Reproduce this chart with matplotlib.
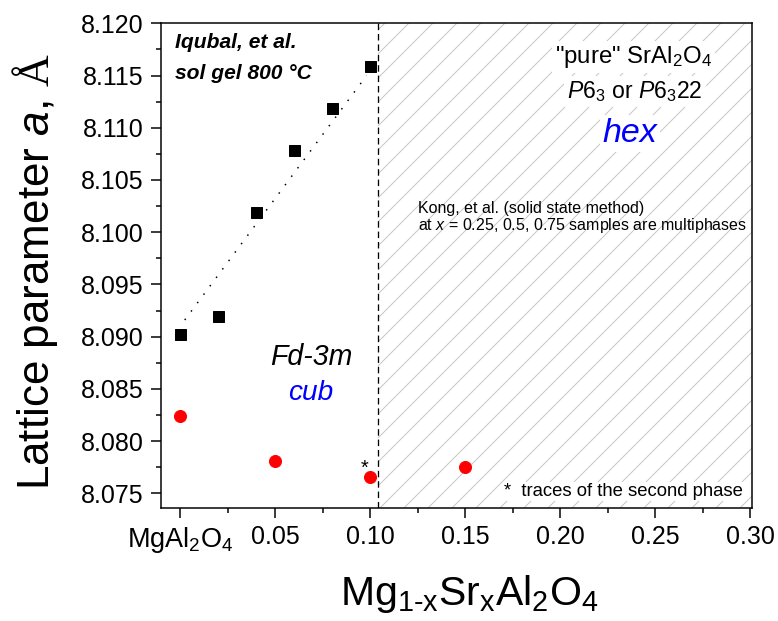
import matplotlib
matplotlib.use("Agg")
import matplotlib.pyplot as plt
import numpy as np

# Sol-gel series (Iqubal et al.)
sol_gel_x = [0.00, 0.02, 0.04, 0.06, 0.08, 0.10]
sol_gel_a = [8.0903, 8.0920, 8.1019, 8.1079, 8.1119, 8.1159]

# Guide line through the sol-gel series
guide_x = [0.0025, 0.0982]
guide_a = [8.0916, 8.1150]

# This work
work_x = [0.00, 0.05, 0.10, 0.15]
work_a = [8.0824, 8.0781, 8.0766, 8.0775]

# Phase boundary between cubic and hexagonal regions
boundary_x = 0.104

x_ticks = [0.00, 0.05, 0.10, 0.15, 0.20, 0.25, 0.30]
x_tick_labels = [r"MgAl$_2$O$_4$", "0.05", "0.10", "0.15", "0.20", "0.25", "0.30"]
y_ticks = [8.075, 8.080, 8.085, 8.090, 8.095, 8.100, 8.105, 8.110, 8.115, 8.120]

plt.rcParams["font.family"] = ["Liberation Sans", "DejaVu Sans"]
plt.rcParams["mathtext.fontset"] = "custom"
plt.rcParams["mathtext.rm"] = "Liberation Sans"
plt.rcParams["mathtext.it"] = "Liberation Sans:italic"
plt.rcParams["mathtext.bf"] = "Liberation Sans:bold"
plt.rcParams["mathtext.sf"] = "Liberation Serif"
plt.rcParams["hatch.linewidth"] = 0.9

fig = plt.figure(figsize=(778 / 72, 621 / 72), dpi=72)
ax = fig.add_axes([161 / 778, 1 - 508 / 621, (752 - 161) / 778, (508 - 23.3) / 621])

ax.set_xlim(-0.01, 0.301)
ax.set_ylim(8.0736, 8.1200)

# hatched hexagonal region
ax.axvspan(boundary_x, 0.301, facecolor="none", edgecolor="#c2c2c2",
           hatch="/", linewidth=0, zorder=0)
ax.axvline(boundary_x, color="black", linestyle=(0, (5, 3)), linewidth=1.3, zorder=1)

ax.plot(guide_x, guide_a, linestyle=(0, (1, 6)), color="black", linewidth=1.5, zorder=2)
ax.plot(sol_gel_x, sol_gel_a, linestyle="none", marker="s", markersize=11,
        color="black", zorder=3)
ax.plot(work_x, work_a, linestyle="none", marker="o", markersize=12,
        color="#ff0000", zorder=3)

# ticks and spines
for s in ax.spines.values():
    s.set_linewidth(1.5)
ax.set_xticks(x_ticks)
ax.set_xticklabels(x_tick_labels)
ax.set_xticks([0.025, 0.075, 0.125, 0.175, 0.225, 0.275], minor=True)
ax.set_yticks(y_ticks)
ax.set_yticklabels([f"{v:.3f}" for v in y_ticks])
ax.set_yticks([8.0775 + 0.005 * i for i in range(9)], minor=True)
ax.tick_params(which="major", direction="out", length=10, width=1.5,
               labelsize=25, pad=7)
ax.tick_params(which="minor", direction="out", length=5, width=1.5)
ax.tick_params(top=False, right=False, which="both")
ax.get_xticklabels()[0].set_fontsize(27)

ax.set_xlabel(r"Mg$_{\mathrm{1\text{-}x}}$Sr$_{\mathrm{x}}$Al$_2$O$_4$", fontsize=41, va="center")
ax.xaxis.set_label_coords(0.521, -0.178)
ax.set_ylabel(r"Lattice parameter $a$, $\mathsf{Å}$", fontsize=44, va="center")
ax.yaxis.set_label_coords(-0.213, 0.487)

# annotations
ax.text(-0.0026, 8.11764, "Iqubal, et al.", fontsize=21, fontweight="bold",
        fontstyle="italic", ha="left", va="baseline")
ax.text(-0.0026, 8.11467, "sol gel 800 °C", fontsize=21, fontweight="bold",
        fontstyle="italic", ha="left", va="baseline")

box = dict(facecolor="white", edgecolor="none", pad=3)
ax.text(0.2387, 8.1162, r'"pure" SrAl$_2$O$_4$', fontsize=24, ha="center",
        va="baseline", bbox=box)
ax.text(0.2395, 8.11285, r"$\mathit{P}$6$_3$ or $\mathit{P}$6$_3$22", fontsize=23,
        ha="center", va="baseline", bbox=box)
ax.text(0.2368, 8.10864, "hex", fontsize=34, fontstyle="italic", color="#0000ff",
        ha="center", va="baseline", bbox=box)

ax.text(0.1253, 8.10184, "Kong, et al. (solid state method)", fontsize=16,
        ha="left", va="baseline")
ax.text(0.1253, 8.10021, r"at $x$ = 0.25, 0.5, 0.75 samples are multiphases",
        fontsize=16, ha="left", va="baseline")

ax.text(0.0692, 8.08728, "Fd-3m", fontsize=28.5, fontstyle="italic",
        ha="center", va="baseline")
ax.text(0.0687, 8.08393, "cub", fontsize=28, fontstyle="italic", color="#0000ff",
        ha="center", va="baseline")

ax.text(0.0974, 8.07686, "*", fontsize=20, ha="center", va="baseline")
ax.text(0.2963, 8.07475, "*  traces of the second phase", fontsize=18.5,
        ha="right", va="baseline",
        bbox=dict(facecolor="white", edgecolor="none", pad=1))

fig.savefig("out.png", dpi=72)
